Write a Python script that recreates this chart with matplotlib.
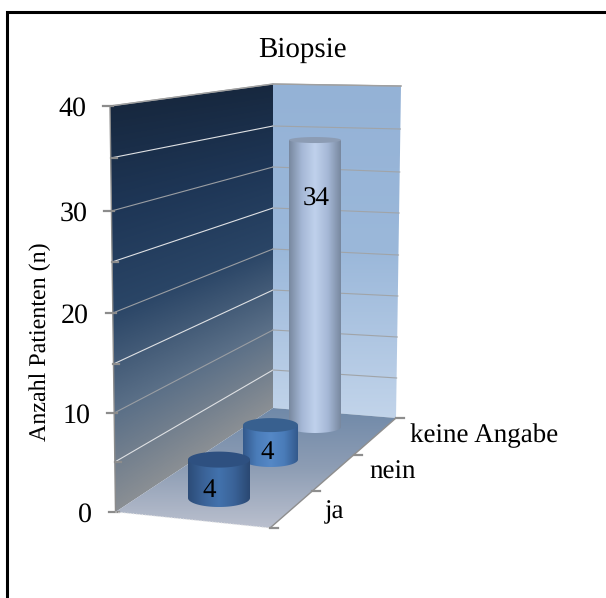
import numpy as np
import matplotlib
matplotlib.use('Agg')
import matplotlib.pyplot as plt
from matplotlib.colors import LinearSegmentedColormap
from matplotlib.patches import Polygon

title = "Biopsie"
ylabel = "Anzahl Patienten (n)"
categories = ["ja", "nein", "keine Angabe"]
values = [4, 4, 34]
ytick_vals = [0, 10, 20, 30, 40]
grid_vals = [0, 5, 10, 15, 20, 25, 30, 35, 40]

W, H = 606, 598
plt.rcParams['font.family'] = ['Liberation Serif', 'DejaVu Serif']
plt.rcParams['text.hinting'] = 'no_hinting'
plt.rcParams['text.hinting_factor'] = 1

fig = plt.figure(figsize=(W/100, H/100), dpi=100)
ax = fig.add_axes([0, 0, 1, 1])
ax.set_xlim(0, W)
ax.set_ylim(H, 0)
ax.axis('off')

# pixel y of gridlines on the three wall edges (value 0..40)
left_x = lambda v: 115.5 - v/40*5.5
left_y = [512, 462, 413, 364, 313, 262, 211, 158, 106]
back_y = [408, 370, 330, 290, 249, 208, 167, 126, 84]
right_y = [418, 378, 337, 296, 255, 213, 172, 129, 86]
back_x = 273
right_x = lambda v: 396 + v/40*5
front = (270, 528)


def clipped(im, poly):
    p = Polygon(poly, closed=True, transform=ax.transData, fill=False, ec='none')
    ax.add_patch(p)
    im.set_clip_path(p)


def grad(poly, colors, extent, horizontal=False, z=1):
    cmap = LinearSegmentedColormap.from_list('g', colors)
    g = np.linspace(0, 1, 256)
    g = g[None, :] if horizontal else g[:, None]
    im = ax.imshow(g, cmap=cmap, extent=extent, aspect='auto', zorder=z, interpolation='bilinear')
    clipped(im, poly)


# left wall gradient follows the wall's perspective
xx, yy = np.meshgrid(np.linspace(108, 275, 200), np.linspace(84, 513, 430))
top_edge = left_y[-1] + (xx-left_x(40))/(back_x-left_x(40))*(back_y[-1]-left_y[-1])
bot_edge = left_y[0] + (xx-left_x(0))/(back_x-left_x(0))*(back_y[0]-left_y[0])
tt = np.clip((yy-top_edge)/(bot_edge-top_edge), 0, 1)
wall_cmap = LinearSegmentedColormap.from_list('w', ['#17283f', '#1e3656', '#2a4566', '#5a6f87', '#8a8f94'])
left_wall = [(left_x(40), left_y[-1]), (back_x, back_y[-1]), (back_x, back_y[0]), (left_x(0), left_y[0])]
im = ax.imshow(tt, cmap=wall_cmap, extent=(108, 275, 513, 84), aspect='auto', zorder=1, vmin=0, vmax=1)
clipped(im, left_wall)

right_wall = [(back_x, back_y[-1]), (right_x(40), right_y[-1]), (right_x(0), right_y[0]), (back_x, back_y[0])]
grad(right_wall, ['#94b2d6', '#9bb8da', '#c2d4ea'], (270, 405, 420, 84), z=1)

floor = [(left_x(0), left_y[0]), (back_x, back_y[0]), (right_x(0), right_y[0]), front]
grad(floor, ['#6e88a8', '#8d9db4', '#bcc1cf'], (110, 400, 530, 405), z=2)

# gridlines
for i, v in enumerate(grid_vals[1:], 1):
    c = '#dfe1e4' if i % 2 == 1 else '#9a9ea3'
    ax.plot([left_x(v), back_x], [left_y[i], back_y[i]], color=c, lw=0.8, zorder=3)
    ax.plot([back_x, right_x(v)], [back_y[i], right_y[i]], color='#a0a4a8', lw=0.8, zorder=3)

# axis lines and tick marks
ax.plot([left_x(40), left_x(0)], [left_y[-1], left_y[0]], color='#8c8c8c', lw=1.0, zorder=4)
ax.plot([left_x(40), back_x, right_x(40)], [left_y[-1], back_y[-1], right_y[-1]], color='#a0a0a0', lw=1.0, zorder=4)
for i, v in enumerate(grid_vals):
    if v % 10 == 0:
        ax.plot([left_x(v)-7, left_x(v)+3], [left_y[i], left_y[i]], color='#8c8c8c', lw=1.6, zorder=4)
    else:
        ax.plot([left_x(v), left_x(v)+6], [left_y[i], left_y[i]], color='#8c8c8c', lw=1.6, zorder=4)
ax.plot([left_x(0), front[0]], [left_y[0], front[1]], color='#e8e8e8', lw=0.8, ls=':', zorder=4)
ax.plot([front[0], right_x(0)], [front[1], right_y[0]], color='#8e8e8e', lw=1.0, zorder=4)
# ticks on depth axis
for f in [0, 1/3, 2/3, 1]:
    tx = front[0] + f*(right_x(0)-front[0])
    ty = front[1] + f*(right_y[0]-front[1])
    ax.plot([tx, tx+8], [ty, ty], color='#8e8e8e', lw=1.6, zorder=4)

# cylinders, back to front
cx = [219, 270.5, 315]
base_y = [498, 459.5, 427]
half_w = [31, 27.5, 26]
ry_bot = [9, 7.5, 6]
ry_top = [8, 7, 3]
unit_px = [9.6, 8.6, 8.44]
side_cols = [
    ['#2c4c78', '#3a6297', '#4272ad', '#3a6297', '#2a4872'],
    ['#33598c', '#4a7cb9', '#5588c6', '#4a7cb9', '#33598c'],
    ['#78889f', '#a5b8d6', '#c0d1ec', '#a5b8d6', '#78889f'],
]
top_cols = ['#2e5080', '#38608f', '#8c9cb4']

for i in [2, 1, 0]:
    x0, x1 = cx[i]-half_w[i], cx[i]+half_w[i]
    yb = base_y[i]
    yt = yb - values[i]*unit_px[i]
    th = np.linspace(0, np.pi, 50)
    lower = np.c_[cx[i]+half_w[i]*np.cos(th), yb+ry_bot[i]*np.sin(th)]
    outline = np.vstack([[(x1, yt)], lower, [(x0, yt)]])
    grad(outline, side_cols[i], (x0, x1, yb+ry_bot[i], yt), horizontal=True, z=5+(2-i))
    th2 = np.linspace(0, 2*np.pi, 80)
    ax.fill(cx[i]+half_w[i]*np.cos(th2), yt+ry_top[i]*np.sin(th2), color=top_cols[i], lw=0, zorder=5+(2-i)+0.5)

# labels on cylinders
lab_pos = [(209, 491), (267, 453), (316, 199)]
for (lx, ly), v in zip(lab_pos, values):
    ax.text(lx, ly, str(v), fontsize=19.5, ha='center', va='center', color='black', zorder=12)

ax.text(302, 50, title, fontsize=21, ha='center', va='center')
for v, i in zip(ytick_vals, [0, 2, 4, 6, 8]):
    ax.text(left_x(v)-24, left_y[i]+3, str(v), fontsize=20.5, ha='right', va='center')
ax.text(40.5, 342, ylabel, fontsize=17, rotation=90, ha='center', va='center')

cat_pos = [(335, 512), (393, 472), (484, 436)]
for (lx, ly), c in zip(cat_pos, categories):
    ax.text(lx, ly, c, fontsize=19.3, ha='center', va='center')

# chart frame (runs off the picture on the right and bottom)
ax.plot([7, 7, W+5], [H+5, 11.5, 11.5], color='black', lw=2.2, solid_joinstyle='miter', zorder=20)

ax.set_xlim(0, W)
ax.set_ylim(H, 0)
fig.savefig('out.png', dpi=100)
